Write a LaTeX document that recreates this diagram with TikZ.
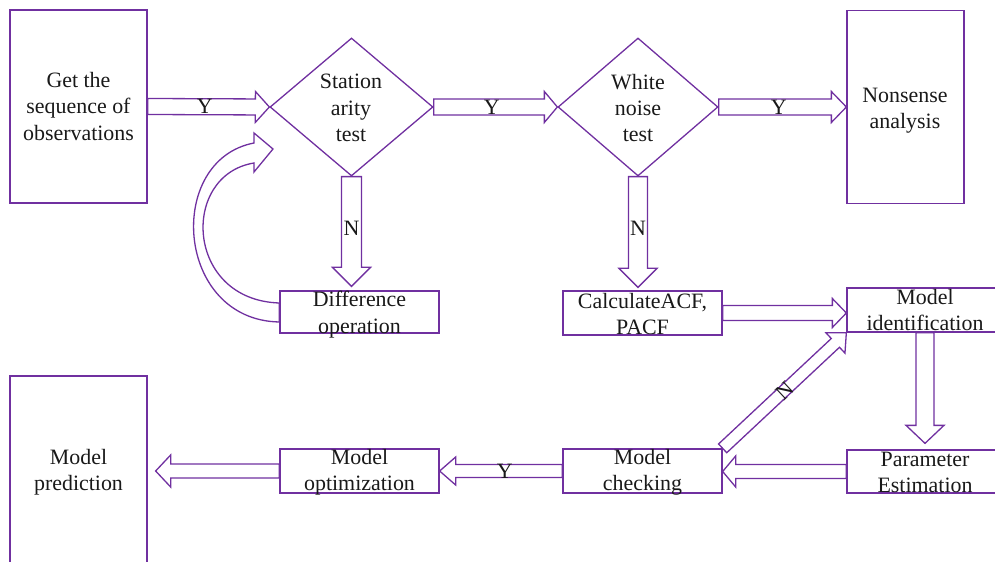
\documentclass[tikz,border=0pt]{standalone}
\usepackage{fontspec}
\setmainfont{Liberation Serif}
\usetikzlibrary{calc,shapes.geometric}
\definecolor{pur}{HTML}{7030A0}
\tikzset{
  box/.style={draw=pur, line width=1.3bp, inner sep=0},
  dia/.style={draw=pur, line width=1.3bp, diamond, inner sep=0},
  txt/.style={align=center, font=\fontsize{22}{26.5}\selectfont, inner sep=0, text=black!90},
  lab/.style={font=\fontsize{22}{26}\selectfont, inner sep=0, text=black!90},
  fat/.style={draw=pur, line width=1.3bp, fill=white, line join=miter},
}
% block arrow: #1 from, #2 to, #3 shaft half width, #4 head half width, #5 head length
\newcommand{\fatarrow}[5]{%
  \coordinate (fac) at ($(#2)!#5!(#1)$);
  \draw[fat] ($(#1)!#3!90:(#2)$) -- ($(fac)!#3!90:(#2)$) -- ($(fac)!#4!90:(#2)$)
    -- (#2) -- ($(fac)!#4!-90:(#2)$) -- ($(fac)!#3!-90:(#2)$) -- ($(#1)!#3!-90:(#2)$) -- cycle;
}
\begin{document}
\begin{tikzpicture}[x=1bp,y=-1bp]
\useasboundingbox (0,0) rectangle (995,562);
\clip (0,0) rectangle (995,562);
% boxes
\node[box, minimum width=137bp, minimum height=193bp] (b1) at (78.5,106.5) {};
\node[txt] (b1t) at (b1.center) {Get the\\sequence of\\observations};
\node[dia, minimum width=163bp, minimum height=138bp] (d1) at (351.5,107) {};
\node[txt] (d1t) at (351,108) {Station\\arity\\test};
\node[dia, minimum width=160bp, minimum height=138bp] (d2) at (638,107) {};
\node[txt] (d2t) at (638,108) {White\\noise\\test};
\node[box, minimum width=117bp, minimum height=193bp] (ns) at (905.5,107) {};
\node[txt] (nst) at (905,110.5) {Nonsense\\analysis};
\node[box, minimum width=159bp, minimum height=42bp] (diff) at (359.5,312) {};
\node[txt] (difft) at ($(diff.center)+(0,2.5)$) {Difference\\operation};
\node[box, minimum width=159bp, minimum height=44bp] (calc) at (642.5,313) {};
\node[txt] (calct) at ($(calc.center)+(0,1)$) {CalculateACF,\\PACF};
\node[box, minimum width=156bp, minimum height=44bp] (ident) at (925,310) {};
\node[txt] (identt) at (ident.center) {Model\\identification};
\node[box, minimum width=156bp, minimum height=43bp] (param) at (925,471.5) {};
\node[txt] (paramt) at ($(param.center)+(0,1)$) {Parameter\\Estimation};
\node[box, minimum width=159bp, minimum height=44bp] (check) at (642.5,471) {};
\node[txt] (checkt) at ($(check.center)+(0,1)$) {Model\\checking};
\node[box, minimum width=159bp, minimum height=44bp] (optim) at (359.5,471) {};
\node[txt] (optimt) at ($(optim.center)+(0,1)$) {Model\\optimization};
\node[box, minimum width=137bp, minimum height=193bp] (pred) at (78.5,472.5) {};
\node[txt] (predt) at (pred.center) {Model\\prediction};
% end coordinates
\coordinate (n1e) at ($(d1.south |- diff.north)+(0,-4)$);
\coordinate (n2e) at ($(d2.south |- calc.north)+(0,-3)$);
\coordinate (pe) at ($(param.north)+(0,-6)$);
\coordinate (ie) at (ident.west |- calc.east);
\coordinate (ce) at (check.east |- param.west);
\coordinate (pr) at ($(pred.east |- optim.west)+(8,0)$);
\coordinate (lt) at (273,149);
% arrows
\fatarrow{b1.east}{d1.west}{8bp}{15.5bp}{14bp}
\fatarrow{d1.east}{d2.west}{8bp}{15.5bp}{13bp}
\fatarrow{d2.east}{ns.west}{8bp}{15.5bp}{15bp}
\fatarrow{d1.south}{n1e}{10bp}{19bp}{19bp}
\fatarrow{d2.south}{n2e}{9.5bp}{19bp}{19bp}
\fatarrow{calc.east}{ie}{7.5bp}{14.5bp}{14bp}
\fatarrow{ident.south}{pe}{9bp}{19bp}{18bp}
\fatarrow{param.west}{ce}{7bp}{15.5bp}{13bp}
\fatarrow{check.west}{optim.east}{6.5bp}{14bp}{16bp}
\fatarrow{optim.west}{pr}{7bp}{16bp}{15bp}
\fatarrow{check.north east}{ident.south west}{6bp}{14bp}{15bp}
% curved loop arrow
\draw[fat] ($(diff.west)+(0,10)$) .. controls (175,320) and (165,160) .. ($(lt)+(-19,-6)$)
  -- ($(lt)+(-19,-16)$) -- (lt) -- ($(lt)+(-19,23)$) -- ($(lt)+(-19,14)$)
  .. controls (180,175) and (185,300) .. ($(diff.west)+(0,-9)$) -- cycle;
% labels
\path (b1.east) -- (d1.west) node[lab, pos=0.47] (y1) {Y};
\path (d1.east) -- (d2.west) node[lab, pos=0.47] (y2) {Y};
\path (d2.east) -- (ns.west) node[lab, pos=0.47] (y3) {Y};
\path (check.west) -- (optim.east) node[lab, pos=0.47] (y4) {Y};
\path (d1.south) -- (n1e) node[lab, pos=0.47] (nn1) {N};
\path (d2.south) -- (n2e) node[lab, pos=0.47] (nn2) {N};
\node[lab, rotate=43] (nn3) at ($(check.north east)!0.5!(ident.south west)$) {N};
\end{tikzpicture}
\end{document}
